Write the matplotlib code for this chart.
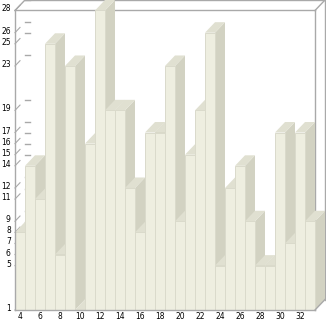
import matplotlib
matplotlib.use("Agg")
import matplotlib.pyplot as plt
from matplotlib.patches import Polygon
import matplotlib.transforms as mtransforms

# data
xs = [4, 5, 6, 7, 8, 9, 10, 11, 12, 13, 14, 15, 16, 17, 18,
      19, 20, 21, 22, 23, 24, 25, 26, 27, 28, 29, 30, 31, 32, 33]
vals = [8, 14, 11, 25, 6, 23, 1, 16, 28, 19, 19, 12, 8, 17, 17,
        23, 9, 15, 19, 26, 5, 12, 14, 9, 5, 5, 17, 7, 17, 9]
xtick_vals = [4, 6, 8, 10, 12, 14, 16, 18, 20, 22, 24, 26, 28, 30, 32]
ytick_vals = sorted(set(vals))

front_col = "#EEEEE0"
sep_col = "#DADACB"
side_col = "#D2D2C2"
top_col = "#E0E0D1"
frame_col = "#A9A9A9"

ymin, ymax = 1, 28
dx = 1.0      # depth in x units
dy = 0.946    # depth in y units

fig = plt.figure(figsize=(3.26, 3.21), dpi=100)
ax = fig.add_axes([15 / 326, 11 / 321, 310 / 326, 310 / 321])
x0 = xs[0] - 0.5
x1 = xs[-1] + 0.5
ax.set_xlim(x0, x1 + dx)
ax.set_ylim(ymin, ymax + dy)
for s in ax.spines.values():
    s.set_visible(False)

# box behind the bars
kw = dict(color=frame_col, lw=1.0, clip_on=False, zorder=1)
ax.plot([x0 + dx, x1 + dx], [ymax + dy, ymax + dy], **kw)
ax.plot([x1 + dx, x1 + dx], [ymin + dy, ymax + dy], **kw)
ax.plot([x0, x1], [ymax, ymax], **kw)
ax.plot([x1, x1], [ymin, ymax], **kw)
ax.plot([x0, x0 + dx], [ymax, ymax + dy], **kw)
ax.plot([x1, x1 + dx], [ymax, ymax + dy], **kw)

# tick marks on the left wall and the back wall
for v in ytick_vals:
    ax.plot([x0, x0 + dx * 0.5], [v, v + dy * 0.5], color=frame_col, lw=0.8,
            clip_on=False, zorder=1)
    ax.plot([x0 + dx, x0 + dx * 1.5], [v + dy, v + dy], color=frame_col,
            lw=1.0, clip_on=False, zorder=1)

# bars, drawn left to right so each front hides the previous side
bars = ax.bar(xs, [v - ymin for v in vals], bottom=ymin, width=1.0,
              color=front_col, edgecolor=sep_col, linewidth=0.7)
for i, (x, v) in enumerate(zip(xs, vals)):
    z = 2 + i * 0.01
    side = Polygon([(x + 0.5, ymin), (x + 0.5 + dx, ymin + dy),
                    (x + 0.5 + dx, v + dy), (x + 0.5, v)],
                   closed=True, facecolor=side_col, edgecolor="none", zorder=z)
    top = Polygon([(x - 0.5, v), (x - 0.5 + dx, v + dy),
                   (x + 0.5 + dx, v + dy), (x + 0.5, v)],
                  closed=True, facecolor=top_col, edgecolor="none", zorder=z)
    ax.add_patch(side)
    ax.add_patch(top)
    bars[i].set_zorder(z + 0.005)

# front edges on top
kw = dict(color=frame_col, lw=1.0, clip_on=False, zorder=10)
ax.plot([x0, x0], [ymin, ymax], **kw)
ax.plot([x0, x1], [ymin, ymin], **kw)
ax.plot([x1, x1 + dx], [ymin, ymin + dy], **kw)

ax.set_xticks(xtick_vals)
ax.set_xticklabels([str(v) for v in xtick_vals])
ax.set_yticks(ytick_vals)
ax.set_yticklabels([str(v) for v in ytick_vals])
ax.tick_params(axis="both", length=0, labelsize=5.5, colors="black")
ax.tick_params(axis="x", pad=1.5)
ax.tick_params(axis="y", pad=3)
shift = mtransforms.ScaledTranslation(0, 2.5 / 100, fig.dpi_scale_trans)
for lab in ax.get_yticklabels():
    lab.set_transform(lab.get_transform() + shift)

fig.savefig("out.png", dpi=100)
